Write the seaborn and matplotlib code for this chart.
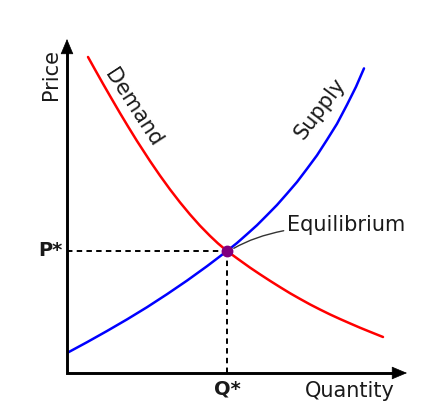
import matplotlib
matplotlib.use("Agg")
import matplotlib.pyplot as plt
import seaborn as sns

sns.set_theme(style="white")
plt.rcParams['font.family'] = ['DejaVu Sans']
plt.rcParams['text.color'] = '#1a1a1a'

# Demand curve (quantity, price)
demand_q = [0.618, 0.824, 1.059, 1.294, 1.559, 1.794, 2.059, 2.441, 2.735, 3.029, 3.324,
            3.618, 3.912, 4.206, 4.441, 4.706, 5.029, 5.382, 5.676, 5.971, 6.265, 6.559,
            6.853, 7.147, 7.441, 7.735, 8.029, 8.324, 8.618, 8.912, 9.294]
demand_p = [9.461, 9.084, 8.659, 8.243, 7.781, 7.383, 6.946, 6.347, 5.910, 5.497, 5.108,
            4.746, 4.410, 4.105, 3.880, 3.653, 3.413, 3.156, 2.955, 2.760, 2.572, 2.389,
            2.219, 2.054, 1.901, 1.754, 1.617, 1.485, 1.356, 1.234, 1.078]

# Supply curve (quantity, price)
supply_q = [0.000, 0.588, 1.176, 1.765, 2.353, 2.941, 3.529, 4.118, 4.706, 5.000, 5.294,
            5.588, 5.882, 6.176, 6.471, 6.765, 7.059, 7.353, 7.647, 7.941, 8.235, 8.500, 8.735]
supply_p = [0.599, 0.922, 1.257, 1.605, 1.970, 2.359, 2.766, 3.198, 3.653, 3.892, 4.156,
            4.425, 4.725, 5.030, 5.371, 5.719, 6.114, 6.518, 6.982, 7.461, 8.030, 8.569, 9.120]

# Equilibrium
eq_q = 4.706
eq_p = 3.653

labels = {"x": "Quantity", "y": "Price", "demand": "Demand", "supply": "Supply",
          "eq": "Equilibrium", "p_star": "P*", "q_star": "Q*"}

fig = plt.figure(figsize=(4.31, 4.16), dpi=100)
ax = fig.add_axes([67/431, 43/416, 340/431, 334/416])
ax.set_xlim(0, 10)
ax.set_ylim(0, 10)
for s in ax.spines.values():
    s.set_visible(False)
ax.set_xticks([])
ax.set_yticks([])

# Axes lines with arrowheads
ax.plot([0, 0, 9.7], [9.7, 0, 0], color="black", lw=2.1, solid_joinstyle="miter",
        solid_capstyle="projecting", clip_on=False, zorder=3)
for tip, start in [((10.0, 0), (9.6, 0)), ((0, 10.0), (0, 9.6))]:
    ax.annotate("", xy=tip, xytext=start,
                arrowprops=dict(arrowstyle="-|>,head_length=1.0,head_width=0.42", fc="black",
                                ec="black", lw=0.5, shrinkA=0, shrinkB=0, mutation_scale=10),
                annotation_clip=False)

# Curves
sns.lineplot(x=demand_q, y=demand_p, color="#ff0000", lw=1.8, ax=ax, estimator=None, sort=False)
sns.lineplot(x=supply_q, y=supply_p, color="#0000ff", lw=1.8, ax=ax, estimator=None, sort=False)

# Dashed guides
ax.plot([0, eq_q], [eq_p, eq_p], color="black", lw=1.4, ls=(0, (2.8, 2.2)), zorder=1)
ax.plot([eq_q, eq_q], [0, eq_p], color="black", lw=1.4, ls=(0, (2.8, 2.2)), zorder=1)

# Equilibrium point
ax.plot([eq_q], [eq_p], marker="o", color="#800080", ms=7.5, zorder=5)

# Equilibrium annotation with connector
ax.annotate(labels["eq"], xy=(eq_q + 0.2, eq_p + 0.08), xytext=(6.47, 4.42),
            fontsize=15, va="center", ha="left",
            arrowprops=dict(arrowstyle="-", color="#333333", lw=1.0, shrinkA=0, shrinkB=0,
                            connectionstyle="angle3,angleA=0,angleB=30"))

# Text labels
ax.text(-0.47, 8.95, labels["y"], rotation=90, fontsize=15, ha="center", va="center")
ax.text(8.32, -0.55, labels["x"], fontsize=15, ha="center", va="center")
ax.text(-0.12, eq_p, labels["p_star"], fontsize=14, fontweight="bold", ha="right", va="center")
ax.text(eq_q, -0.48, labels["q_star"], fontsize=14, fontweight="bold", ha="center", va="center")
ax.text(1.94, 7.93, labels["demand"], rotation=-57, fontsize=15, ha="center", va="center",
        rotation_mode="anchor")
ax.text(7.44, 7.93, labels["supply"], rotation=53, fontsize=15, ha="center", va="center",
        rotation_mode="anchor")

fig.savefig("out.png", dpi=100, facecolor="white")
